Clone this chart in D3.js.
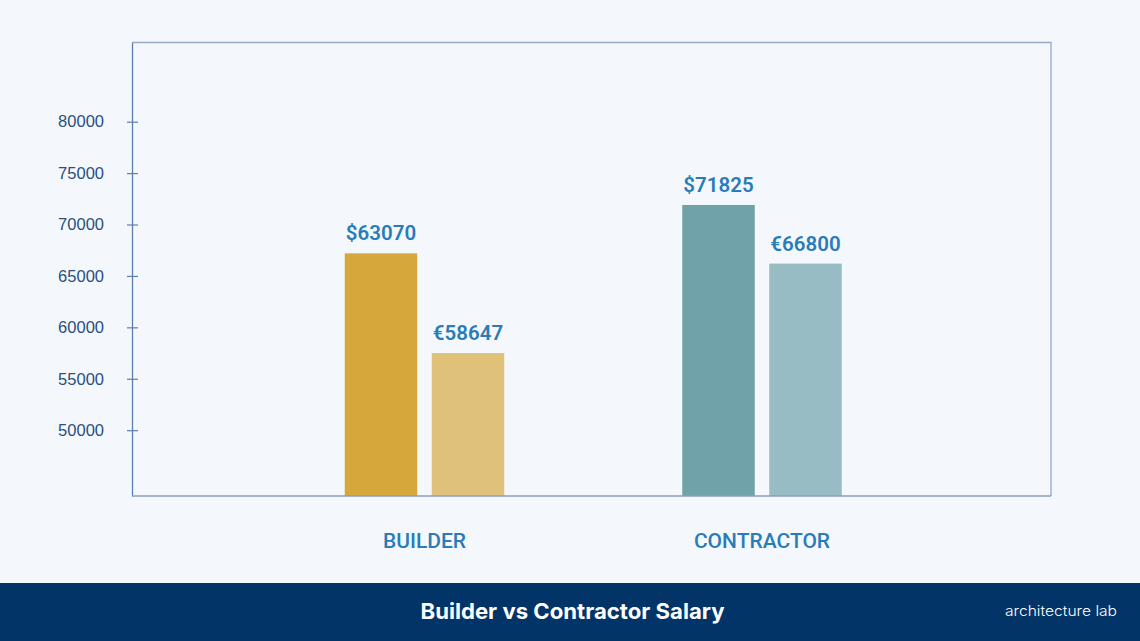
<!DOCTYPE html>
<html>
<head>
<meta charset="utf-8">
<script src="https://cdn.jsdelivr.net/npm/d3@7"></script>
<style>
  html, body { margin: 0; padding: 0; background: #f4f8fd; }
  svg { display: block; }
</style>
</head>
<body>
<svg id="chart" width="1140" height="641"></svg>
<script>
// ---- data ----
const categories = ["BUILDER", "CONTRACTOR"];
const seriesKeys = ["usd", "eur"];
const barValues = {               // bar heights as drawn in the picture
  usd: [67200, 71900],
  eur: [57500, 66200]
};
const barLabels = {
  usd: ["$63070", "$71825"],
  eur: ["€58647", "€66800"]
};
const yTicks = [50000, 55000, 60000, 65000, 70000, 75000, 80000];
const yDomain = [43600, 87700];
const title = "Builder vs Contractor Salary";
const brand = "architecture lab";

// ---- layout ----
const W = 1140, H = 641;
const plot = { left: 132, right: 1051, top: 42.5, bottom: 496 };
const colors = {
  BUILDER: { usd: "#d5a83c", eur: "#e0c179" },
  CONTRACTOR: { usd: "#6fa2a9", eur: "#97bcc3" }
};

const svg = d3.select("#chart");
svg.append("rect").attr("width", W).attr("height", H).attr("fill", "#f4f8fd");

const y = d3.scaleLinear().domain(yDomain).range([plot.bottom, plot.top]);
const x0 = d3.scaleBand().domain(categories).range([255.75, 930.75]).padding(0);
const x1 = d3.scaleBand().domain(seriesKeys).range([-79.75, 79.75]).paddingInner(1/6).paddingOuter(0);

// frame top/right
svg.append("path")
  .attr("d", `M${plot.left},${plot.top}H${plot.right}V${plot.bottom}`)
  .attr("fill", "none").attr("stroke", "#97a9c4").attr("stroke-width", 1.3);

// bars
const rows = [];
categories.forEach((c, i) => seriesKeys.forEach(k => rows.push({ c, k, v: barValues[k][i], label: barLabels[k][i] })));

const g = svg.append("g");
g.selectAll("rect.bar").data(rows).enter().append("rect")
  .attr("class", "bar")
  .attr("x", d => x0(d.c) + x0.bandwidth() / 2 + x1(d.k))
  .attr("width", x1.bandwidth())
  .attr("y", d => y(d.v))
  .attr("height", d => plot.bottom - y(d.v))
  .attr("fill", d => colors[d.c][d.k]);

g.selectAll("text.vlabel").data(rows).enter().append("text")
  .attr("class", "vlabel")
  .attr("x", d => x0(d.c) + x0.bandwidth() / 2 + x1(d.k) + x1.bandwidth() / 2)
  .attr("y", d => y(d.v) - 13)
  .attr("text-anchor", "middle")
  .attr("font-family", "Roboto, sans-serif")
  .attr("font-weight", 600)
  .attr("font-size", 20.5)
  .attr("fill", "#2a7cb9")
  .text(d => d.label);

// y axis
const yAxis = d3.axisLeft(y).tickValues(yTicks).tickSizeInner(0).tickSizeOuter(0).tickPadding(0).tickFormat(d3.format("d"));
const ya = svg.append("g").attr("transform", `translate(${plot.left},0)`).call(yAxis);
ya.select(".domain").attr("stroke", "#5d7fae").attr("stroke-width", 1.3);
ya.selectAll(".tick line").attr("x1", -5).attr("x2", 6).attr("stroke", "#5d7fae").attr("stroke-width", 1.2);
ya.selectAll(".tick text")
  .attr("x", -28)
  .attr("font-family", "'Liberation Sans', Arial, sans-serif")
  .attr("font-size", 16.5)
  .attr("fill", "#2a4f7f");

// x axis
const xAxis = d3.axisBottom(x0).tickSize(0).tickPadding(0);
const xa = svg.append("g").attr("transform", `translate(0,${plot.bottom})`).call(xAxis);
xa.select(".domain").attr("d", `M${plot.left},0H${plot.right}`).attr("stroke", "#8a9fbd").attr("stroke-width", 1.5);
xa.selectAll(".tick text")
  .attr("dy", null)
  .attr("y", 52)
  .attr("font-family", "Roboto, sans-serif")
  .attr("font-weight", 500)
  .attr("font-size", 21)
  .attr("fill", "#2a7cb9");

// footer
svg.append("rect").attr("x", 0).attr("y", 583).attr("width", W).attr("height", H - 583).attr("fill", "#033467");
svg.append("text")
  .attr("x", 572.5).attr("y", 618.5)
  .attr("text-anchor", "middle")
  .attr("font-family", "Inter, sans-serif")
  .attr("font-weight", 700)
  .attr("font-size", 21.5)
  .attr("textLength", 304)
  .attr("lengthAdjust", "spacingAndGlyphs")
  .attr("fill", "#ffffff")
  .text(title);
svg.append("text")
  .attr("x", 1117).attr("y", 615.5)
  .attr("text-anchor", "end")
  .attr("font-family", "Inter, sans-serif")
  .attr("font-weight", 300)
  .attr("font-size", 14.5)
  .attr("textLength", 112)
  .attr("lengthAdjust", "spacingAndGlyphs")
  .attr("fill", "#ffffff")
  .text(brand);
</script>
</body>
</html>
